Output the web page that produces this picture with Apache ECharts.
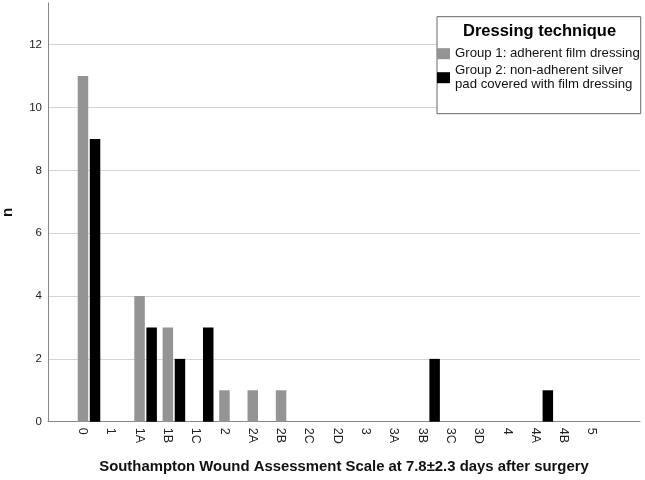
<!DOCTYPE html>
<html>
<head>
<meta charset="utf-8">
<script src="https://cdn.jsdelivr.net/npm/echarts@6/dist/echarts.min.js"></script>
<style>
  html, body { margin: 0; padding: 0; background: #fff; }
  #chart { width: 645px; height: 480px; }
</style>
</head>
<body>
<div id="chart"></div>
<script>
// SWAS grades on the x axis
const categories = ['0', '1', '1A', '1B', '1C', '2', '2A', '2B', '2C', '2D',
  '3', '3A', '3B', '3C', '3D', '4', '4A', '4B', '5']

// counts per grade
const group1 = [11, 0, 4, 3, 0, 1, 1, 1, 0, 0, 0, 0, 0, 0, 0, 0, 0, 0, 0]
const group2 = [9, 0, 3, 2, 3, 0, 0, 0, 0, 0, 0, 0, 2, 0, 0, 0, 1, 0, 0]

const seriesNames = ['Group 1', 'Group 2']
const legendLabels = [
  'Group 1: adherent film dressing',
  'Group 2: non-adherent silver\npad covered with film dressing',
]
const yTicks = [0, 12, 2] // min, max, step

const FONT = '"Liberation Sans", Arial, sans-serif'
const GRAY = '#949494'
const BLACK = '#000000'

function getOption() {
  // fixed boxes, don't let echarts 6 shrink the grids to fit names
  const base = { top: 44.7, bottom: 58.3, outerBoundsMode: 'none' }
  return {
    animation: false,
    textStyle: { fontFamily: FONT },
    title: {
      text: 'Dressing technique',
      left: 463,
      top: 23,
      padding: 0,
      textStyle: { fontSize: 16.5, fontWeight: 'bold', color: '#000', fontFamily: FONT },
    },
    legend: {
      orient: 'vertical',
      left: 437,
      top: 16.7,
      padding: [30, 1, 22, 0],
      itemWidth: 13,
      itemHeight: 11,
      itemGap: 3,
      borderColor: '#666',
      borderWidth: 1,
      backgroundColor: '#fff',
      icon: 'rect',
      data: seriesNames,
      formatter: name => legendLabels[seriesNames.indexOf(name)],
      textStyle: { fontSize: 13.2, color: '#111', lineHeight: 14 },
    },
    grid: [
      // bars
      { left: 74.85, right: 32.45, ...base },
      // gridlines + bottom axis
      { left: 48, right: 5, ...base },
      // y axis line reaching to the top
      { left: 48, right: 5, ...base, top: 3 },
    ],
    xAxis: [
      {
        type: 'category',
        gridIndex: 0,
        data: categories,
        axisLine: { show: false },
        axisTick: { show: false },
        axisLabel: {
          rotate: -90,
          interval: 0,
          margin: 6,
          fontSize: 12.5,
          color: '#222',
          verticalAlign: 'top',
        },
      },
      {
        type: 'value',
        gridIndex: 1,
        min: 0,
        max: 1,
        axisLine: { show: true, lineStyle: { color: '#888', width: 1 } },
        axisTick: { show: false },
        axisLabel: { show: false },
        splitLine: { show: false },
        name: 'Southampton Wound Assessment Scale at 7.8±2.3 days after surgery',
        nameLocation: 'middle',
        nameGap: 37.5,
        nameTextStyle: { fontSize: 14.9, fontWeight: 'bold', color: '#111' },
      },
      {
        type: 'value',
        gridIndex: 2,
        show: false,
      },
    ],
    yAxis: [
      {
        type: 'value',
        gridIndex: 0,
        min: yTicks[0],
        max: yTicks[1],
        interval: yTicks[2],
        show: false,
      },
      {
        type: 'value',
        gridIndex: 1,
        min: yTicks[0],
        max: yTicks[1],
        interval: yTicks[2],
        axisLine: { show: false },
        axisTick: { show: false },
        axisLabel: { margin: 6, fontSize: 11.5, color: '#222' },
        splitLine: { lineStyle: { color: '#d4d4d4', width: 1 } },
      },
      {
        type: 'value',
        gridIndex: 2,
        min: 0,
        max: 1,
        axisLine: { show: true, lineStyle: { color: '#888', width: 1 } },
        axisTick: { show: false },
        axisLabel: { show: false },
        splitLine: { show: false },
        name: 'n',
        nameLocation: 'middle',
        nameGap: 33,
        nameTextStyle: { fontSize: 15, fontWeight: 'bold', color: '#111' },
      },
    ],
    series: [
      {
        name: seriesNames[0],
        type: 'bar',
        xAxisIndex: 0,
        yAxisIndex: 0,
        barWidth: 10.5,
        barGap: '15%',
        itemStyle: { color: GRAY },
        data: group1,
      },
      {
        name: seriesNames[1],
        type: 'bar',
        xAxisIndex: 0,
        yAxisIndex: 0,
        barWidth: 10.5,
        barGap: '15%',
        itemStyle: { color: BLACK },
        data: group2,
      },
    ],
  }
}

const chart = echarts.init(document.getElementById('chart'), null, { renderer: 'canvas' })
chart.setOption(getOption())
</script>
</body>
</html>
